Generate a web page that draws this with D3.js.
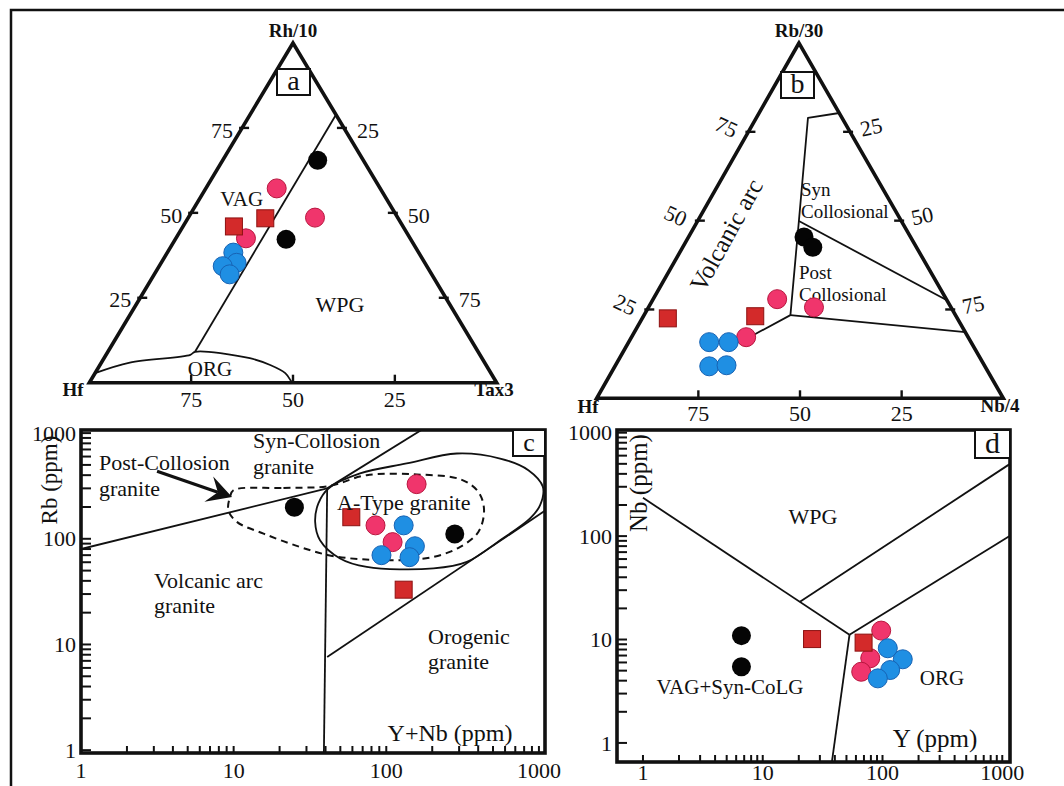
<!DOCTYPE html>
<html><head><meta charset="utf-8">
<script src="https://cdn.jsdelivr.net/npm/d3@7"></script>
<style>
html,body{margin:0;padding:0;background:#fff;}
svg{display:block;}
text{font-family:"Liberation Serif","Times New Roman",serif;fill:#111;}
</style></head><body>
<svg id="chart" width="1064" height="786"></svg>
<script>
// ================= DATA =================
// Panel a : Rb/10 (top) – Hf (left) – Ta×3 (right), percent
const aBlack = [[65.5,11.2,23.3],[42.2,30.6,27.2]];
const aPink  = [[57.2,25.4,17.4],[48.6,20.3,31.1],[42.5,40.3,17.2]];
const aRed   = [[46.0,41.5,12.5],[48.4,32.6,19.0]];
const aBlue  = [[38.3,45.5,16.2],[35.3,46.2,18.5],[34.3,50.1,15.6],[31.9,49.6,18.5]];
const aBoundVagWpg = [[78.9,0,21.1],[9.1,69.5,21.4]];
const aBoundOrg = [[2.8,97.2,0],[5.9,87.1,7.0],[8.2,71.1,20.7],[9.1,69.5,21.4],[7.2,57.0,35.8],[5.2,53.0,41.8],[2.8,50.5,46.7],[0.3,50.2,49.5],[0,50,50]];

// Panel b : Rb/30 (top) – Hf (left) – Nb/4 (right), percent
const bBlack = [[45.4,26.2,28.4],[42.5,25.5,32.0]];
const bPink  = [[27.9,41.6,30.5],[25.6,33.7,40.7],[17.2,54.6,28.2]];
const bRed   = [[22.5,71.2,6.3],[23.1,49.4,27.5]];
const bBlue  = [[15.8,64.4,19.8],[15.8,59.6,24.6],[9.0,67.8,23.2],[9.3,63.4,27.3]];
const bBoundMain = [[80.3,0,19.7],[78.9,8.4,12.7],[49.9,25.2,24.9],[23.4,40.6,36.0],[17.2,53.8,29.0]];
const bBoundSyn  = [[49.9,25.2,24.9],[27.6,0,72.4]];
const bBoundPost = [[23.4,40.6,36.0],[18.6,0,81.4]];

const ternTicks = [25,50,75];

// Panel c : Rb vs Y+Nb (ppm)
const cBlack = [[25,199],[281,111]];
const cPink  = [[158,329],[85,134],[110,93]];
const cRed   = [[59,160],[130,33]];
const cBlue  = [[130,134],[154,85],[142,67],[93,70]];
const cLineVagSyn = [[1,80],[41,300]];
const cLineSynWpg = [[41,300],[211,1300]];
const cLineVert   = [[41,300],[39,0.9]];
const cLineOrg    = [[41,7.6],[1100,185]];
const cATypeField = [[41.8,299],[67.3,415],[136,516],[290,641],[557,575],[853,446],[1061,310],[1018,208],[875,156],[557,97],[337,60.4],[204,52.4],[74.5,54.2],[49.8,65.2],[36.8,97],[34.2,144.5],[35.9,216]];
const cPostField  = [[9.96,288],[21.2,303],[41.8,315],[74.5,400],[158.5,406],[305,366],[401,278],[437,187],[401,116],[305,83.8],[204,67.4],[123,62.8],[67.3,64.1],[41.8,70],[25.9,85.7],[15.7,112],[10.5,144.5],[9.23,187],[9.47,249]];
const cArrow = [[3.15,436],[9.76,248]];
const cTickLabels = [1,10,100,1000];

// Panel d : Nb vs Y (ppm)
const dBlack = [[6.64,10.9],[6.64,5.46]];
const dRed   = [[25.8,10.1],[69.5,9.33]];
const dPink  = [[97.5,12.2],[79,6.59],[66.4,4.88]];
const dBlue  = [[110.7,8.23],[147.6,6.44],[115.9,5.07],[91.4,4.21]];
const dLines = [
  [[1,235],[53,11.1]],
  [[20.3,23.0],[1143,494]],
  [[53,11.1],[1143,99.6]],
  [[53,11.1],[37.4,0.6]]
];
const dTickLabels = [1,10,100,1000];

// ================= STYLE =================
const COL = {black:"#050505", pink:"#f0356c", pinkS:"#b8163e", blue:"#1f8fe3", blueS:"#1763b4", red:"#d32a2a", redS:"#8c1111"};
const R_PT = 9.5, SQ = 17;

const svg = d3.select("#chart");
svg.append("rect").attr("width",1064).attr("height",786).attr("fill","#fff");
svg.append("path").attr("d","M11,786 V10 H1064").attr("fill","none").attr("stroke","#111").attr("stroke-width",2.5);

function drawPoints(g, proj, black, pink, blue, red){
  g.selectAll(null).data(black).join("circle")
    .attr("cx",d=>proj(d)[0]).attr("cy",d=>proj(d)[1]).attr("r",R_PT).attr("fill",COL.black);
  g.selectAll(null).data(pink).join("circle")
    .attr("cx",d=>proj(d)[0]).attr("cy",d=>proj(d)[1]).attr("r",R_PT).attr("fill",COL.pink).attr("stroke",COL.pinkS).attr("stroke-width",1);
  g.selectAll(null).data(blue).join("circle")
    .attr("cx",d=>proj(d)[0]).attr("cy",d=>proj(d)[1]).attr("r",R_PT).attr("fill",COL.blue).attr("stroke",COL.blueS).attr("stroke-width",1);
  g.selectAll(null).data(red).join("rect")
    .attr("x",d=>proj(d)[0]-SQ/2).attr("y",d=>proj(d)[1]-SQ/2).attr("width",SQ).attr("height",SQ)
    .attr("fill",COL.red).attr("stroke",COL.redS).attr("stroke-width",1);
}

// ---------- ternary ----------
function makeTernary(A,L,R){
  const ys = d3.scaleLinear().domain([0,100]).range([L[1],A[1]]);
  const xs = d3.scaleLinear().domain([0,100]).range([L[0],R[0]]);
  const k = (A[0]-L[0])/(R[0]-L[0]);
  return d=>[xs(d[2]+d[0]*k), ys(d[0])];
}

function ternaryPanel(cfg){
  const g = svg.append("g");
  const P = makeTernary(cfg.A,cfg.L,cfg.R);
  const line = d3.line().x(d=>P(d)[0]).y(d=>P(d)[1]);
  cfg.bounds.forEach(b=>{
    g.append("path").attr("d", (b.curve? line.curve(b.curve): line.curve(d3.curveLinear))(b.pts))
      .attr("fill","none").attr("stroke","#111").attr("stroke-width",1.8).attr("stroke-linejoin","round");
  });
  line.curve(d3.curveLinear);
  g.append("path").attr("d", line([[100,0,0],[0,100,0],[0,0,100]])+"Z")
    .attr("fill","none").attr("stroke","#111").attr("stroke-width",3.6).attr("stroke-linejoin","miter");
  ternTicks.forEach(v=>{
    const pl = P([v,100-v,0]);
    g.append("line").attr("x1",pl[0]-3).attr("x2",pl[0]+7).attr("y1",pl[1]).attr("y2",pl[1]).attr("stroke","#111").attr("stroke-width",2.4);
    const lx = pl[0]+cfg.lOff[0], ly = pl[1]+cfg.lOff[1];
    g.append("text").attr("x",lx).attr("y",ly).attr("text-anchor","middle").attr("dy","0.35em")
      .attr("font-size",22).attr("transform",`rotate(${cfg.lRot},${lx},${ly})`).text(v);
    const pr = P([100-v,0,v]);
    g.append("line").attr("x1",pr[0]-7).attr("x2",pr[0]+3).attr("y1",pr[1]).attr("y2",pr[1]).attr("stroke","#111").attr("stroke-width",2.4);
    const rx = pr[0]+cfg.rOff[0], ry = pr[1]+cfg.rOff[1];
    g.append("text").attr("x",rx).attr("y",ry).attr("text-anchor","middle").attr("dy","0.35em")
      .attr("font-size",22).attr("transform",`rotate(${cfg.rRot},${rx},${ry})`).text(v);
    const pb = P([0,v,100-v]);
    g.append("line").attr("x1",pb[0]).attr("x2",pb[0]).attr("y1",pb[1]).attr("y2",pb[1]-8).attr("stroke","#111").attr("stroke-width",2.4);
    g.append("text").attr("x",pb[0]).attr("y",pb[1]+cfg.bOff).attr("text-anchor","middle").attr("dy","0.35em")
      .attr("font-size",22).text(v);
  });
  cfg.vLabels.forEach(t=>{
    g.append("text").attr("x",t[1]).attr("y",t[2]).attr("text-anchor","middle").attr("dy","0.35em")
      .attr("font-size",19).attr("font-weight","bold").text(t[0]);
  });
  const bx = cfg.box;
  g.append("rect").attr("x",bx[0]).attr("y",bx[1]).attr("width",bx[2]).attr("height",bx[3]).attr("fill","#fff").attr("stroke","#111").attr("stroke-width",2);
  g.append("text").attr("x",bx[0]+bx[2]/2).attr("y",bx[1]+bx[3]/2).attr("dy","0.3em").attr("text-anchor","middle").attr("font-size",28).text(cfg.letter);
  cfg.texts.forEach(t=>{
    const tx = g.append("text").attr("x",t.x).attr("y",t.y).attr("dy","0.35em").attr("font-size",t.size)
      .attr("text-anchor",t.anchor||"middle").text(t.s);
    if(t.rot) tx.attr("transform",`rotate(${t.rot},${t.x},${t.y})`);
  });
  drawPoints(g, P, cfg.black, cfg.pink, cfg.blue, cfg.red);
}

ternaryPanel({
  A:[293,43], L:[89.3,382.7], R:[496.7,382.7],
  bounds:[{pts:aBoundVagWpg},{pts:aBoundOrg, curve:d3.curveCatmullRom}],
  lOff:[-20,2], lRot:0, rOff:[24,2], rRot:0, bOff:17,
  vLabels:[["Rh/10",293,30],["Hf",73,389],["Tax3",494,389]],
  box:[277,69,33,26], letter:"a",
  texts:[{s:"VAG",x:241.7,y:199,size:21},{s:"WPG",x:340,y:304,size:22},{s:"ORG",x:210,y:369,size:21}],
  black:aBlack, pink:aPink, blue:aBlue, red:aRed
});

ternaryPanel({
  A:[799,43], L:[596.7,398.3], R:[1003.3,398.3],
  bounds:[{pts:bBoundMain},{pts:bBoundSyn},{pts:bBoundPost}],
  lOff:[-22,-5], lRot:25, rOff:[21,-5], rRot:-12, bOff:15,
  vLabels:[["Rb/30",799,30],["Hf",588,406],["Nb/4",1000,405]],
  box:[781,72,33,26], letter:"b",
  texts:[{s:"Volcanic arc",x:726,y:235,size:25,rot:-61},
         {s:"Syn",x:801,y:189,size:19,anchor:"start"},{s:"Collosional",x:801,y:211,size:19,anchor:"start"},
         {s:"Post",x:799,y:272,size:19,anchor:"start"},{s:"Collosional",x:799,y:294,size:19,anchor:"start"}],
  black:bBlack, pink:bPink, blue:bBlue, red:bRed
});

// ---------- log-log panels ----------
function logPanel(cfg){
  const g = svg.append("g");
  const x = d3.scaleLog().domain(cfg.xd).range([cfg.x0,cfg.x1]);
  const y = d3.scaleLog().domain(cfg.yd).range([cfg.y1,cfg.y0]);
  const P = d=>[x(d[0]),y(d[1])];
  const clipId = "clip"+cfg.letter;
  svg.append("clipPath").attr("id",clipId).append("rect").attr("x",cfg.x0).attr("y",cfg.y0).attr("width",cfg.x1-cfg.x0).attr("height",cfg.y1-cfg.y0);
  const inner = g.append("g").attr("clip-path",`url(#${clipId})`);
  const line = d3.line().x(d=>x(d[0])).y(d=>y(d[1]));
  cfg.lines.forEach(l=>inner.append("path").attr("d",line(l)).attr("fill","none").attr("stroke","#111").attr("stroke-width",1.8));
  if(cfg.extra) cfg.extra(inner, x, y);
  const vals = [];
  for(let e=0;e<3;e++) for(let k=1;k<10;k++) vals.push(k*Math.pow(10,e));
  vals.push(1000);
  vals.forEach(v=>{
    g.append("line").attr("x1",x(v)).attr("x2",x(v)).attr("y1",cfg.y1).attr("y2",cfg.y1-7).attr("stroke","#111").attr("stroke-width",2);
    g.append("line").attr("x1",cfg.x0).attr("x2",cfg.x0+10).attr("y1",y(v)).attr("y2",y(v)).attr("stroke","#111").attr("stroke-width",2);
  });
  cfg.ticks.forEach(v=>{
    g.append("text").attr("x",x(v)).attr("y",cfg.xLabY).attr("dy","0.35em").attr("text-anchor","middle").attr("font-size",22).text(v);
    g.append("text").attr("x",cfg.yLabX).attr("y",y(v)).attr("dy","0.35em").attr("text-anchor","end").attr("font-size",22).text(v);
  });
  g.append("rect").attr("x",cfg.x0).attr("y",cfg.y0).attr("width",cfg.x1-cfg.x0).attr("height",cfg.y1-cfg.y0)
    .attr("fill","none").attr("stroke","#111").attr("stroke-width",3.6);
  const bx = cfg.box;
  g.append("rect").attr("x",bx[0]).attr("y",bx[1]).attr("width",bx[2]).attr("height",bx[3]).attr("fill","#fff").attr("stroke","#111").attr("stroke-width",2);
  g.append("text").attr("x",bx[0]+bx[2]/2).attr("y",bx[1]+bx[3]/2).attr("dy","0.3em").attr("text-anchor","middle").attr("font-size",cfg.boxFont).text(cfg.letter);
  cfg.texts.forEach(t=>{
    const tx = g.append("text").attr("x",t.x).attr("y",t.y).attr("dy","0.35em").attr("font-size",t.size)
      .attr("text-anchor",t.anchor||"middle").text(t.s);
    if(t.rot) tx.attr("transform",`rotate(${t.rot},${t.x},${t.y})`);
  });
  drawPoints(inner, P, cfg.black, cfg.pink, cfg.blue, cfg.red);
}

logPanel({
  letter:"c", xd:[1,1096], yd:[0.94,1070], x0:81, x1:545, y0:430, y1:753,
  lines:[cLineVagSyn,cLineSynWpg,cLineVert,cLineOrg],
  extra:(g,x,y)=>{
    g.append("path").attr("d",d3.line().x(d=>x(d[0])).y(d=>y(d[1])).curve(d3.curveCatmullRomClosed)(cATypeField))
      .attr("fill","none").attr("stroke","#111").attr("stroke-width",1.8);
    g.append("path").attr("d",d3.line().x(d=>x(d[0])).y(d=>y(d[1])).curve(d3.curveCatmullRomClosed)(cPostField))
      .attr("fill","none").attr("stroke","#111").attr("stroke-width",2).attr("stroke-dasharray","7,5");
    const t0=[x(cArrow[0][0]),y(cArrow[0][1])], t1=[x(cArrow[1][0]),y(cArrow[1][1])];
    const ang=Math.atan2(t1[1]-t0[1],t1[0]-t0[0]);
    const pt=(len,a)=>[t1[0]-len*Math.cos(ang+a), t1[1]-len*Math.sin(ang+a)];
    const n=pt(15,0);
    g.append("line").attr("x1",t0[0]).attr("y1",t0[1]).attr("x2",n[0]).attr("y2",n[1]).attr("stroke","#111").attr("stroke-width",3.2);
    const h1=pt(28,0.5), h2=pt(28,-0.5);
    g.append("path").attr("d",`M${t1[0]},${t1[1]}L${h1[0]},${h1[1]}L${n[0]},${n[1]}L${h2[0]},${h2[1]}Z`).attr("fill","#111");
  },
  ticks:cTickLabels, xLabY:770, yLabX:76,
  box:[513,430,32,26], boxFont:26,
  texts:[
    {s:"Rb (ppm)",x:49,y:480,size:23,rot:-90},
    {s:"Y+Nb (ppm)",x:450,y:733,size:24},
    {s:"Post-Collosion",x:99,y:462,size:22,anchor:"start"},
    {s:"granite",x:99,y:488,size:22,anchor:"start"},
    {s:"Syn-Collosion",x:253,y:440,size:22,anchor:"start"},
    {s:"granite",x:253,y:466,size:22,anchor:"start"},
    {s:"A-Type granite",x:337,y:502,size:22,anchor:"start"},
    {s:"Volcanic arc",x:154,y:580,size:22,anchor:"start"},
    {s:"granite",x:154,y:605,size:22,anchor:"start"},
    {s:"Orogenic",x:428,y:636,size:22,anchor:"start"},
    {s:"granite",x:428,y:661,size:22,anchor:"start"}
  ],
  black:cBlack, pink:cPink, blue:cBlue, red:cRed
});

logPanel({
  letter:"d", xd:[0.607,1160], yd:[0.654,1062], x0:617, x1:1010, y0:430, y1:762,
  lines:dLines,
  ticks:dTickLabels, xLabY:772, yLabX:612,
  box:[975,430,35,28], boxFont:30,
  texts:[
    {s:"Nb (ppm)",x:638,y:483,size:25,rot:-90},
    {s:"WPG",x:813,y:516,size:22},
    {s:"VAG+Syn-CoLG",x:730,y:687,size:21},
    {s:"ORG",x:942,y:678,size:21},
    {s:"Y (ppm)",x:935,y:738,size:25}
  ],
  black:dBlack, pink:dPink, blue:dBlue, red:dRed
});
</script>
</body></html>
